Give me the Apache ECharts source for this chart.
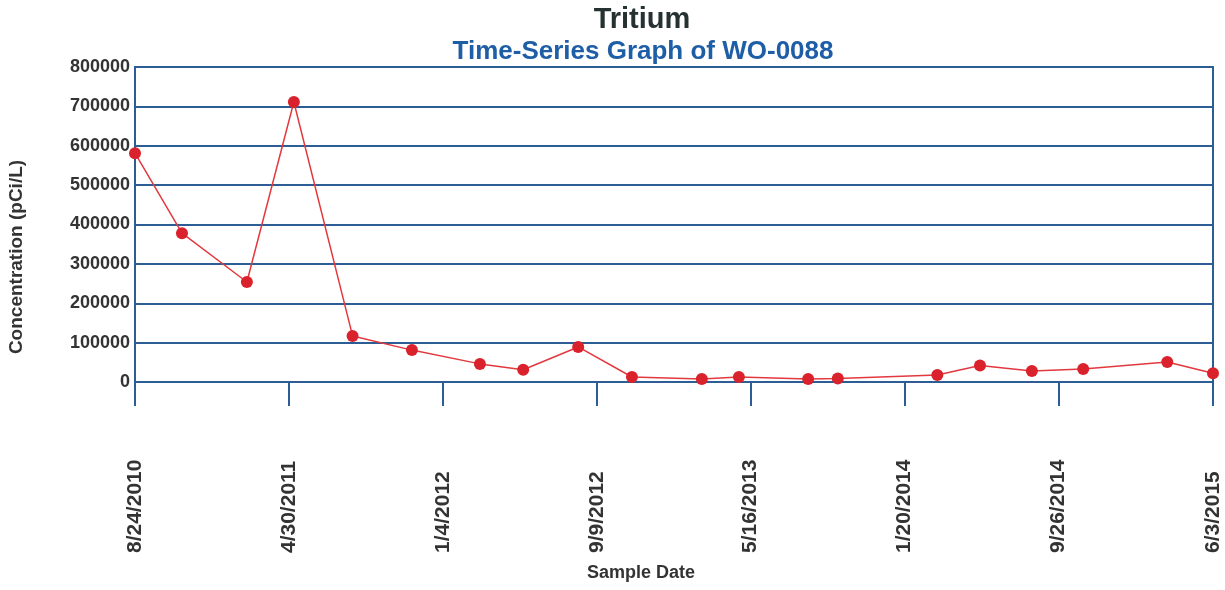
<!DOCTYPE html>
<html>
<head>
<meta charset="utf-8">
<script src="https://cdn.jsdelivr.net/npm/echarts@6/dist/echarts.min.js"></script>
<style>
html,body{margin:0;padding:0;background:#fff;}
#chart{width:1225px;height:590px;}
</style>
</head>
<body>
<div id="chart"></div>
<script>
// ---- data ----
var sampleDates = ['2010-08-24','2010-11-08','2011-02-21','2011-05-08','2011-08-11','2011-11-15',
  '2012-03-04','2012-05-13','2012-08-10','2012-11-05','2013-02-26','2013-04-27','2013-08-17',
  '2013-10-04','2014-03-14','2014-05-22','2014-08-14','2014-11-05','2015-03-21','2015-06-03'];
var tritiumValues = [581000,378000,254000,711000,117000,81000,
  46000,31000,89000,12700,7600,12700,7600,
  9000,17800,42000,28000,33000,50800,22000];
var xTickLabels = ['8/24/2010','4/30/2011','1/4/2012','9/9/2012','5/16/2013','1/20/2014','9/26/2014','6/3/2015'];
var yTicks = [0,100000,200000,300000,400000,500000,600000,700000,800000];

// ---- helpers ----
function isoToMs(s){var p=s.split('-');return Date.UTC(+p[0],+p[1]-1,+p[2]);}
function mdyToMs(s){var p=s.split('/');return Date.UTC(+p[2],+p[0]-1,+p[1]);}
var tickVals = xTickLabels.map(mdyToMs);
var seriesData = sampleDates.map(function(d,i){return [isoToMs(d), tritiumValues[i]];});

var FONT = "'Liberation Sans', Arial, Helvetica, sans-serif";
var BLUE = '#2c5d94';

var chart = echarts.init(document.getElementById('chart'), null, {renderer:'canvas'});
chart.setOption({
  animation:false,
  backgroundColor:'#ffffff',
  title:[
    {text:'Tritium', left:642, top:5, textAlign:'center', padding:0,
     textStyle:{fontFamily:FONT, fontWeight:'bold', fontSize:29, color:'#263232'}},
    {text:'Time-Series Graph of WO-0088', left:643, top:39, textAlign:'center', padding:0,
     textStyle:{fontFamily:FONT, fontWeight:'bold', fontSize:26, color:'#1d5ea6'}}
  ],
  grid:{left:135, right:12, top:67, bottom:208, show:true, borderColor:BLUE, borderWidth:2, containLabel:false},
  xAxis:{
    type:'value',
    min:tickVals[0], max:tickVals[tickVals.length-1],
    axisLine:{show:true, onZero:false, lineStyle:{color:BLUE, width:2}},
    axisTick:{show:true, length:24, customValues:tickVals, lineStyle:{color:BLUE, width:2}},
    splitLine:{show:false},
    axisLabel:{
      customValues:tickVals,
      rotate:90, align:'left', verticalAlign:'middle', margin:171,
      fontFamily:FONT, fontWeight:'bold', fontSize:21, color:'#333333',
      formatter:function(v){
        var best=0, bd=Infinity;
        for(var i=0;i<tickVals.length;i++){var d=Math.abs(tickVals[i]-v); if(d<bd){bd=d;best=i;}}
        return xTickLabels[best];
      }
    }
  },
  yAxis:{
    type:'value', min:yTicks[0], max:yTicks[yTicks.length-1], interval:yTicks[1]-yTicks[0],
    axisLine:{show:true, lineStyle:{color:BLUE, width:2}},
    axisTick:{show:false},
    splitLine:{show:true, lineStyle:{color:BLUE, width:2}},
    axisLabel:{margin:5, fontFamily:FONT, fontWeight:'bold', fontSize:18, color:'#333333',
      formatter:function(v){return String(v);}}
  },
  graphic:[
    {type:'text', x:17, y:257, rotation:Math.PI/2,
     style:{text:'Concentration (pCi/L)', x:0, y:0, align:'center', verticalAlign:'middle',
            font:'bold 19px '+FONT, fill:'#333333'}},
    {type:'text', x:641, y:573,
     style:{text:'Sample Date', x:0, y:0, align:'center', verticalAlign:'middle',
            font:'bold 18px '+FONT, fill:'#333333'}}
  ],
  series:[{
    type:'line',
    data:seriesData,
    symbol:'circle', symbolSize:12,
    lineStyle:{color:'#e2393f', width:1.5},
    itemStyle:{color:'#d9222c'},
    z:5
  }]
});
</script>
</body>
</html>
